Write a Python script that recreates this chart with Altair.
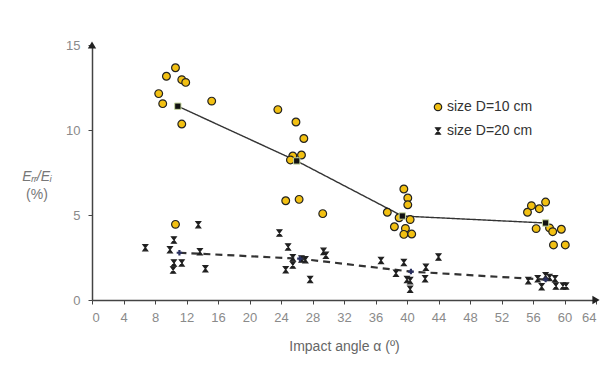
import altair as alt
import pandas as pd

series_labels = ["size D=10 cm", "size D=20 cm"]

d10_angle = [10.6, 9.45, 11.4, 11.9, 8.47, 8.98, 11.4, 15.2, 10.6,
             23.6, 25.9, 26.9, 26.6, 25.5, 25.2, 24.6, 26.3, 29.3,
             39.6, 40.1, 40.1, 37.5, 39.0, 40.4, 38.4, 39.8, 39.6, 40.6,
             55.3, 55.8, 56.8, 57.6, 56.4, 58.1, 58.5, 59.6, 58.6, 60.1]
d10_ratio = [13.66, 13.16, 12.96, 12.8, 12.14, 11.55, 10.35, 11.7, 4.45,
             11.2, 10.47, 9.5, 8.53, 8.47, 8.24, 5.84, 5.92, 5.08,
             6.53, 6.0, 5.6, 5.16, 4.84, 4.73, 4.31, 4.21, 3.86, 3.88,
             5.16, 5.55, 5.37, 5.76, 4.2, 4.24, 4.02, 4.16, 3.24, 3.24]

d20_angle = [6.77, 9.9, 10.4, 10.4, 10.3, 11.4, 13.5, 13.7, 14.4,
             23.8, 24.9, 24.6, 25.5, 25.5, 26.6, 27.1, 27.7, 29.4, 29.7,
             36.7, 39.6, 38.6, 40.0, 40.4, 40.4, 42.4, 42.3, 44.0,
             55.4, 56.6, 57.1, 57.6, 58.1, 58.8, 58.9, 59.8, 60.2]
d20_ratio = [3.08, 2.96, 3.53, 2.18, 1.76, 2.18, 4.43, 2.84, 1.84,
             3.94, 3.12, 1.78, 2.49, 2.06, 2.41, 2.37, 1.2, 2.86, 2.63,
             2.33, 2.2, 1.57, 1.2, 1.14, 0.63, 1.92, 1.25, 2.53,
             1.14, 1.25, 0.78, 1.43, 1.33, 1.25, 0.82, 0.82, 0.82]

mean10_angle = [10.9, 26.0, 39.4, 57.6]
mean10_ratio = [11.4, 8.18, 4.94, 4.53]
mean20_angle = [11.1, 26.4, 40.5, 57.6]
mean20_ratio = [2.78, 2.43, 1.67, 1.2]

x_ticks = list(range(0, 65, 4))
y_ticks = [0, 5, 10, 15]
ytitle_lines = ["Eᵣᵣ/Eᵢ", "(%)"]

FONT = "Liberation Sans"

pts = pd.concat([
    pd.DataFrame({"angle": d10_angle, "ratio": d10_ratio, "series": series_labels[0]}),
    pd.DataFrame({"angle": d20_angle, "ratio": d20_ratio, "series": series_labels[1]}),
])
means = pd.concat([
    pd.DataFrame({"angle": mean10_angle, "ratio": mean10_ratio, "series": series_labels[0]}),
    pd.DataFrame({"angle": mean20_angle, "ratio": mean20_ratio, "series": series_labels[1]}),
])

xscale = alt.Scale(domain=[0, 64], nice=False, zero=False)
yscale = alt.Scale(domain=[0, 15], nice=False)

X = alt.X("angle:Q", scale=xscale, axis=alt.Axis(
    values=x_ticks, title="Impact angle α (º)", grid=False, labelOverlap=False,
    domainColor="#444", domainWidth=1.5, tickColor="#444", tickSize=4,
    labelColor="#8a8a8a", labelFontSize=13, labelFont=FONT, labelPadding=7,
    titleColor="#666", titleFontSize=14, titleFont=FONT, titleFontWeight="normal",
    titlePadding=15))
Y = alt.Y("ratio:Q", scale=yscale, axis=alt.Axis(
    values=y_ticks, title=None, grid=False, labelOverlap=False,
    domainColor="#444", domainWidth=1.5, tickColor="#444", tickSize=4,
    labelColor="#8a8a8a", labelFontSize=13, labelFont=FONT, labelPadding=8))

hourglass = "M-0.75,-1H0.75L-0.75,1H0.75Z"
shape_scale = alt.Scale(domain=series_labels, range=["circle", hourglass])
fill_scale = alt.Scale(domain=series_labels, range=["#F2C012", "#1a1a1a"])
size_scale = alt.Scale(domain=series_labels, range=[60, 40])

lines = alt.Chart(means).mark_line(color="#333").encode(
    x=X, y=Y,
    strokeDash=alt.StrokeDash("series:N", scale=alt.Scale(domain=series_labels, range=[[1, 0], [7, 5]]), legend=None),
    strokeWidth=alt.StrokeWidth("series:N", scale=alt.Scale(domain=series_labels, range=[1.4, 2.2]), legend=None),
    detail="series:N",
)

scatter = alt.Chart(pts).mark_point(filled=True, opacity=1, strokeWidth=1.2).encode(
    x=X, y=Y,
    shape=alt.Shape("series:N", scale=shape_scale, legend=None),
    fill=alt.Fill("series:N", scale=fill_scale, legend=None),
    size=alt.Size("series:N", scale=size_scale, legend=None),
    stroke=alt.value("#222"),
)

m10 = alt.Chart(pd.DataFrame({"angle": mean10_angle, "ratio": mean10_ratio})).mark_point(
    shape="square", filled=True, fill="#111", stroke="#c8d8a0", strokeWidth=1, size=40, opacity=1
).encode(x=X, y=Y)
m20 = alt.Chart(pd.DataFrame({"angle": mean20_angle, "ratio": mean20_ratio})).mark_point(
    shape="cross", filled=True, fill="#2a3060", size=30, opacity=1
).encode(x=X, y=Y)

arrow_x = alt.Chart(pd.DataFrame({"angle": [64], "ratio": [0]})).mark_point(
    shape="triangle-right", filled=True, fill="#222", size=70, opacity=1).encode(x=X, y=Y)
arrow_y = alt.Chart(pd.DataFrame({"angle": [0], "ratio": [15]})).mark_point(
    shape="triangle-up", filled=True, fill="#222", size=70, opacity=1).encode(x=X, y=Y)

# manual legend
leg_layers = []
for i, lab in enumerate(series_labels):
    row_y = 62 + 24 * i
    d = pd.DataFrame({"series": [lab]})
    leg_layers.append(alt.Chart(d).mark_point(
        filled=True, opacity=1, strokeWidth=1.2, stroke="#222",
        shape=["circle", hourglass][i], fill=["#F2C012", "#1a1a1a"][i], size=[55, 40][i]
    ).encode(x=alt.value(346), y=alt.value(row_y)))
    leg_layers.append(alt.Chart(d).mark_text(
        font=FONT, fontSize=14, color="#333", align="left", baseline="middle"
    ).encode(x=alt.value(355), y=alt.value(row_y), text="series:N"))

ytitle1 = alt.Chart(pd.DataFrame({"t": [ytitle_lines[0]]})).mark_text(
    font=FONT, fontSize=14, color="#777", align="center", baseline="middle", fontStyle="italic"
).encode(x=alt.value(-55), y=alt.value(132), text="t:N")
ytitle2 = alt.Chart(pd.DataFrame({"t": [ytitle_lines[1]]})).mark_text(
    font=FONT, fontSize=14, color="#777", align="center", baseline="middle"
).encode(x=alt.value(-55), y=alt.value(150), text="t:N")

chart = alt.layer(lines, scatter, m10, m20, arrow_x, arrow_y, *leg_layers, ytitle1, ytitle2).properties(
    width=504, height=255,
    autosize=alt.AutoSizeParams(type="none"),
    padding={"left": 84, "top": 37, "right": 4, "bottom": 60},
    background="white",
).configure_view(stroke=None)

chart.save("out.html", embed_options={"renderer": "svg", "actions": False})
